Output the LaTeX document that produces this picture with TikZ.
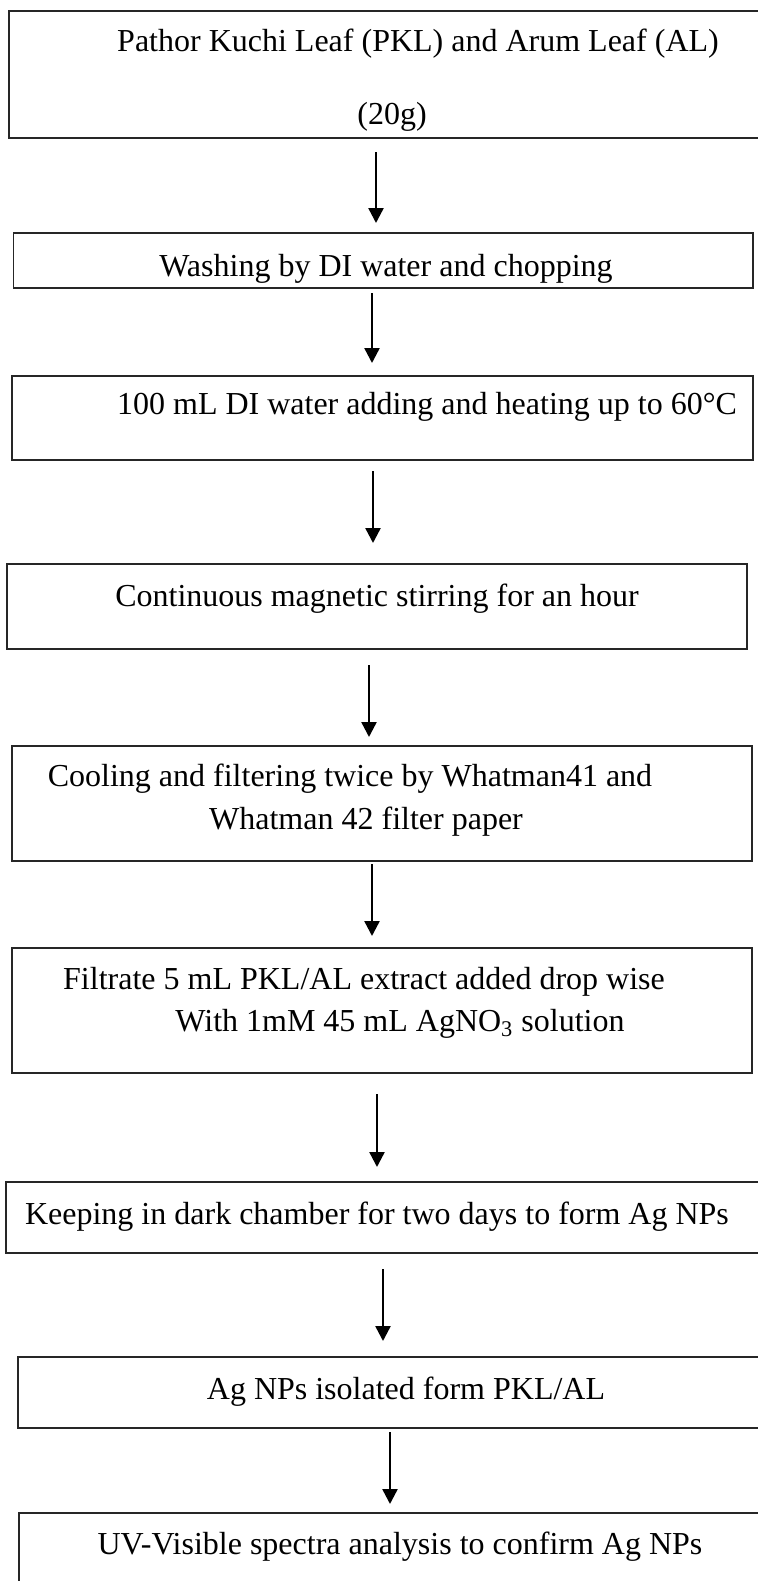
\documentclass[tikz,border=0pt]{standalone}
\usepackage{fontspec}
\setmainfont{Liberation Serif}
\usetikzlibrary{arrows.meta}
\tikzset{
  stepbox/.style={draw=black!85,line width=0.7pt,inner sep=0pt,outer sep=0pt,anchor=north west},
  txt/.style={inner sep=0pt,yshift=-2pt,font=\fontsize{16}{19}\selectfont},
  flow/.style={draw=black,line width=1.2pt,-{Triangle[width=7.5pt,length=7.5pt]}},
}

\begin{document}
\begin{tikzpicture}[x=0.5pt,y=-0.5pt]
\useasboundingbox (0,0) rectangle (757,1581);
\node[stepbox,minimum width=375.5pt,minimum height=63.5pt] (b1) at (9,11) {};
\node[stepbox,minimum width=369.75pt,minimum height=27.5pt] (b2) at (13.5,233) {};
\node[stepbox,minimum width=370.5pt,minimum height=42pt] (b3) at (12,376) {};
\node[stepbox,minimum width=370pt,minimum height=42.5pt] (b4) at (7,564) {};
\node[stepbox,minimum width=370pt,minimum height=57.5pt] (b5) at (12,746) {};
\node[stepbox,minimum width=370pt,minimum height=62.5pt] (b6) at (12,948) {};
\node[stepbox,minimum width=377pt,minimum height=35.5pt] (b7) at (6,1182) {};
\node[stepbox,minimum width=371pt,minimum height=35.5pt] (b8) at (18,1357) {};
\node[stepbox,minimum width=370.5pt,minimum height=38.5pt] (b9) at (19,1513) {};
\node[txt] (t1a) at (418,40) {Pathor Kuchi Leaf (PKL) and Arum Leaf (AL)};
\node[txt] (t1b) at (392,113) {(20g)};
\node[txt] (t2) at (386,265) {Washing by DI water and chopping};
\node[txt] (t3) at (427,403) {100 mL DI water adding and heating up to 60°C};
\node[txt] (t4) at (377,595) {Continuous magnetic stirring for an hour};
\node[txt] (t5a) at (350,775) {Cooling and filtering twice by Whatman41 and};
\node[txt] (t5b) at (366,818) {Whatman 42 filter paper};
\node[txt] (t6a) at (364,978) {Filtrate 5 mL PKL/AL extract added drop wise};
\node[txt] (t6b) at (400,1020) {With 1mM 45 mL AgNO\textsubscript{3} solution};
\node[txt] (t7) at (377,1213) {Keeping in dark chamber for two days to form Ag NPs};
\node[txt] (t8) at (406,1388) {Ag NPs isolated form PKL/AL};
\node[txt] (t9) at (400,1543) {UV-Visible spectra analysis to confirm Ag NPs};
\coordinate (a1s) at (376,152);
\coordinate (a1e) at (376,223);
\coordinate (a2s) at (372,293);
\coordinate (a2e) at (372,363);
\coordinate (a3s) at (373,471);
\coordinate (a3e) at (373,543);
\coordinate (a4s) at (369,665);
\coordinate (a4e) at (369,737);
\coordinate (a5s) at (372,864);
\coordinate (a5e) at (372,936);
\coordinate (a6s) at (377,1094);
\coordinate (a6e) at (377,1167);
\coordinate (a7s) at (383,1269);
\coordinate (a7e) at (383,1341);
\coordinate (a8s) at (390,1432);
\coordinate (a8e) at (390,1504);
\draw[flow] (a1s)--(a1e);
\draw[flow] (a2s)--(a2e);
\draw[flow] (a3s)--(a3e);
\draw[flow] (a4s)--(a4e);
\draw[flow] (a5s)--(a5e);
\draw[flow] (a6s)--(a6e);
\draw[flow] (a7s)--(a7e);
\draw[flow] (a8s)--(a8e);
\end{tikzpicture}
\end{document}
